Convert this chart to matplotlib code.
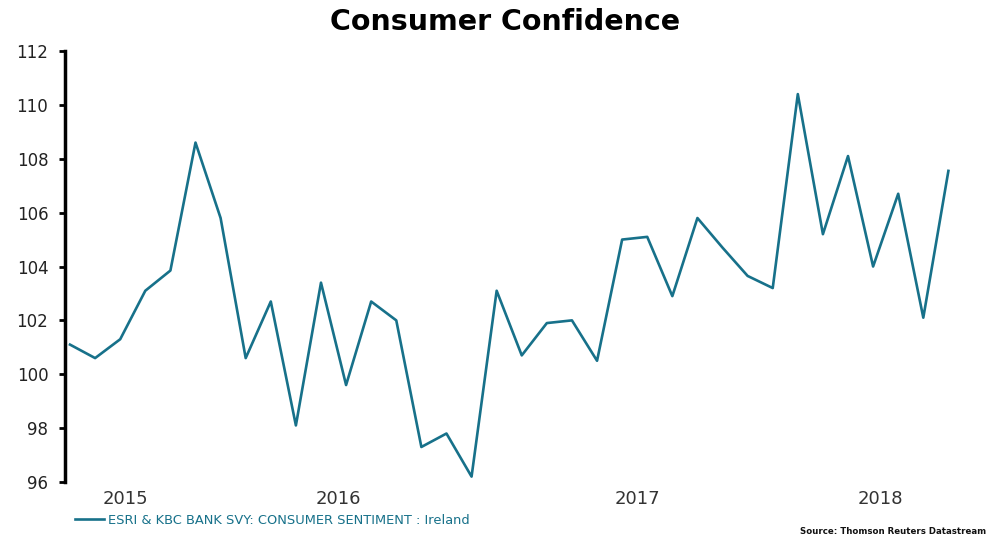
import matplotlib
matplotlib.use("Agg")
import matplotlib.pyplot as plt

# monthly readings
sentiment = [101.1, 100.6, 101.3, 103.1, 103.85, 108.6, 105.8, 100.6, 102.7, 98.1,
             103.4, 99.6, 102.7, 102.0, 97.3, 97.8, 96.2, 103.1, 100.7, 101.9,
             102.0, 100.5, 105.0, 105.1, 102.9, 105.8, 104.7, 103.65, 103.2, 110.4,
             105.2, 108.1, 104.0, 106.7, 102.1, 107.55]
months = list(range(len(sentiment)))

year_pos = [2.2, 10.7, 22.6, 32.3]
year_labels = ["2015", "2016", "2017", "2018"]
yticks = [96, 98, 100, 102, 104, 106, 108, 110, 112]

teal = "#17718a"
plt.rcParams['font.family'] = ['DejaVu Sans']

fig = plt.figure(figsize=(9.92, 5.37), dpi=100)
ax = fig.add_axes([65/992, 1 - 482/537, (975 - 65)/992, (482 - 51)/537])

line, = ax.plot(months, sentiment, color=teal, linewidth=1.9,
                label="ESRI & KBC BANK SVY: CONSUMER SENTIMENT : Ireland")

ax.set_xlim(-0.2, 36.06)
ax.set_ylim(96, 112)
ax.set_yticks(yticks)
ax.set_yticklabels([str(v) for v in yticks], fontsize=12, color="#222222")
ax.set_xticks(year_pos)
ax.set_xticklabels(year_labels, fontsize=13, color="#333333")
ax.tick_params(axis='x', length=0, pad=6)
ax.tick_params(axis='y', length=4, width=2, pad=8, direction='out')

for s in ['top', 'right', 'bottom']:
    ax.spines[s].set_visible(False)
ax.spines['left'].set_linewidth(2.5)
ax.spines['left'].set_color('black')

fig.text(0.509, 1 - 22/537, "Consumer Confidence", ha='center', va='center',
         fontsize=20.5, fontweight='bold', color='black')

fig.legend(handles=[line], loc='center left', bbox_to_anchor=(70/992, 1 - 520/537),
           frameon=False, fontsize=9.4, labelcolor=teal, handlelength=2.2,
           handletextpad=0.3, borderaxespad=0)

fig.text(800/992, 1 - 531/537, "Source: Thomson Reuters Datastream", ha='left',
         va='center', fontsize=6.2, fontweight='bold', color='#111111')

fig.savefig("out.png", dpi=100)
